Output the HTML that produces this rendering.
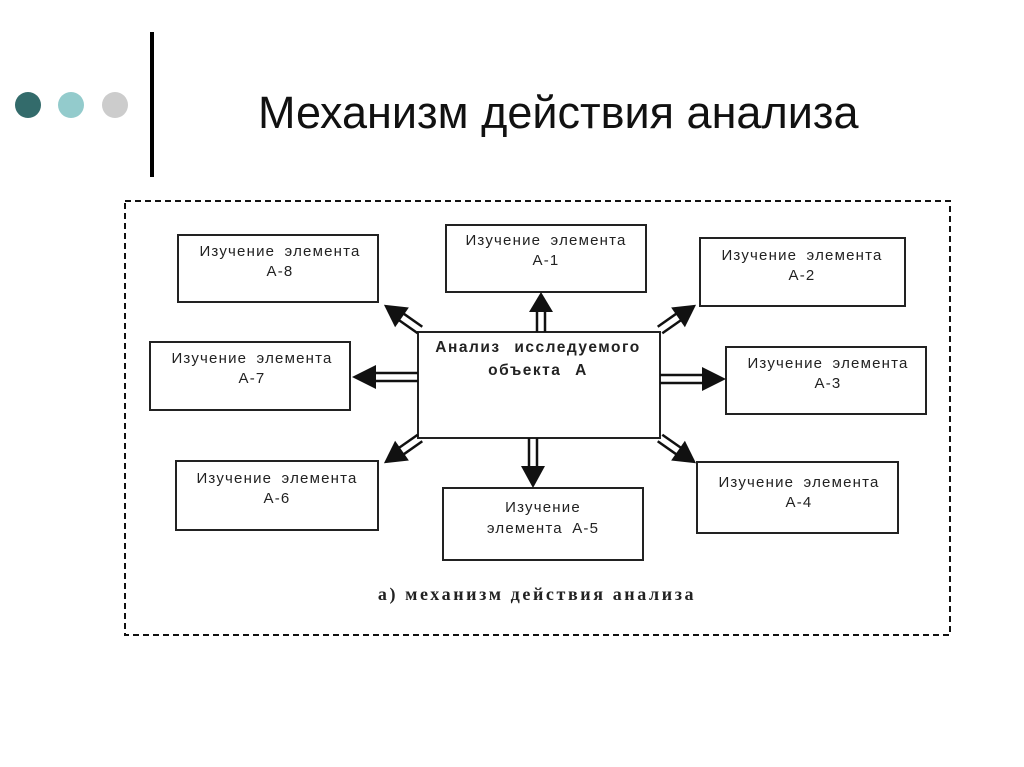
<!DOCTYPE html>
<html><head><meta charset="utf-8"><style>
body{margin:0;background:#fff;width:1024px;height:767px;overflow:hidden;position:relative;font-family:"Liberation Sans",sans-serif}
</style></head><body>
<svg width="1024" height="767" style="position:absolute;left:0;top:0">
<circle cx="28" cy="105" r="13" fill="#336b6b"/>
<circle cx="71" cy="105" r="13" fill="#93cbcc"/>
<circle cx="115" cy="105" r="13" fill="#cccccc"/>
<rect x="150" y="32" width="4" height="145" fill="#000"/>
<text x="258" y="128" font-size="45" font-family="Liberation Sans" fill="#111">Механизм действия анализа</text>
<rect x="125" y="201" width="825" height="434" fill="none" stroke="#111" stroke-width="2" stroke-dasharray="6,4"/>
<g fill="#fff" stroke="#222" stroke-width="2">
<rect x="178" y="235" width="200" height="67"/>
<rect x="446" y="225" width="200" height="67"/>
<rect x="700" y="238" width="205" height="68"/>
<rect x="150" y="342" width="200" height="68"/>
<rect x="418" y="332" width="242" height="106"/>
<rect x="726" y="347" width="200" height="67"/>
<rect x="176" y="461" width="202" height="69"/>
<rect x="443" y="488" width="200" height="72"/>
<rect x="697" y="462" width="201" height="71"/>
</g>
<g stroke="#111" fill="#111">
<g transform="translate(541,332) rotate(-90)"><line x1="0" y1="-4" x2="22" y2="-4" stroke-width="2.5"/><line x1="0" y1="4" x2="22" y2="4" stroke-width="2.5"/><polygon points="20,-12 40,0 20,12" stroke="none"/></g>
<g transform="translate(533,438) rotate(90)"><line x1="0" y1="-4" x2="30" y2="-4" stroke-width="2.5"/><line x1="0" y1="4" x2="30" y2="4" stroke-width="2.5"/><polygon points="28,-12 50,0 28,12" stroke="none"/></g>
<g transform="translate(418,377) rotate(180)"><line x1="0" y1="-4" x2="44" y2="-4" stroke-width="2.5"/><line x1="0" y1="4" x2="44" y2="4" stroke-width="2.5"/><polygon points="42,-12 66,0 42,12" stroke="none"/></g>
<g transform="translate(660,379)"><line x1="0" y1="-4" x2="44" y2="-4" stroke-width="2.5"/><line x1="0" y1="4" x2="44" y2="4" stroke-width="2.5"/><polygon points="42,-12 66,0 42,12" stroke="none"/></g>
<g transform="translate(420,330) rotate(-145)"><line x1="0" y1="-4" x2="24" y2="-4" stroke-width="2.5"/><line x1="0" y1="4" x2="24" y2="4" stroke-width="2.5"/><polygon points="22,-12 44,0 22,12" stroke="none"/></g>
<g transform="translate(660,330) rotate(-35)"><line x1="0" y1="-4" x2="24" y2="-4" stroke-width="2.5"/><line x1="0" y1="4" x2="24" y2="4" stroke-width="2.5"/><polygon points="22,-12 44,0 22,12" stroke="none"/></g>
<g transform="translate(420,438) rotate(145)"><line x1="0" y1="-4" x2="24" y2="-4" stroke-width="2.5"/><line x1="0" y1="4" x2="24" y2="4" stroke-width="2.5"/><polygon points="22,-12 44,0 22,12" stroke="none"/></g>
<g transform="translate(660,438) rotate(35)"><line x1="0" y1="-4" x2="24" y2="-4" stroke-width="2.5"/><line x1="0" y1="4" x2="24" y2="4" stroke-width="2.5"/><polygon points="22,-12 44,0 22,12" stroke="none"/></g>
</g>
<g font-size="15" fill="#222" text-anchor="middle" font-family="Liberation Sans" letter-spacing="1.2" word-spacing="4">
<text x="280" y="256">Изучение элемента</text><text x="280" y="276">А-8</text>
<text x="546" y="245">Изучение элемента</text><text x="546" y="265">А-1</text>
<text x="802" y="260">Изучение элемента</text><text x="802" y="280">А-2</text>
<text x="252" y="363">Изучение элемента</text><text x="252" y="383">А-7</text>
<text x="828" y="368">Изучение элемента</text><text x="828" y="388">А-3</text>
<text x="277" y="483">Изучение элемента</text><text x="277" y="503">А-6</text>
<text x="543" y="512">Изучение</text><text x="543" y="533">элемента А-5</text>
<text x="799" y="487">Изучение элемента</text><text x="799" y="507">А-4</text>
<text x="538" y="352" font-weight="bold" font-size="15.5" letter-spacing="1.5" word-spacing="8">Анализ исследуемого</text>
<text x="538" y="375" font-weight="bold" font-size="15.5" letter-spacing="1.5" word-spacing="8">объекта А</text>
</g>
<text x="537" y="600" text-anchor="middle" font-size="18" font-weight="bold" font-family="Liberation Serif" fill="#222" letter-spacing="2.6">а) механизм действия анализа</text>
</svg>
</body></html>
